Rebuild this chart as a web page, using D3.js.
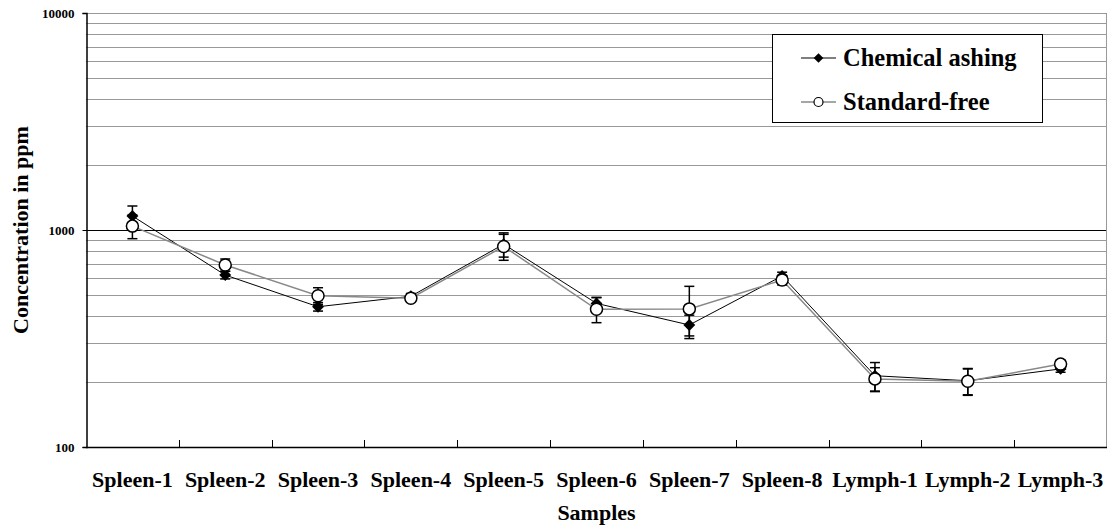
<!DOCTYPE html>
<html>
<head>
<meta charset="utf-8">
<script src="https://cdn.jsdelivr.net/npm/d3@7/dist/d3.min.js"></script>
<style>
  html, body { margin: 0; padding: 0; background: #fff; }
  svg { display: block; font-family: "Liberation Serif", "Times New Roman", serif; font-weight: bold; }
</style>
</head>
<body>
<svg id="chart" width="1110" height="529"></svg>
<script>
// Samples along the x axis
const samples = ["Spleen-1", "Spleen-2", "Spleen-3", "Spleen-4", "Spleen-5", "Spleen-6",
                 "Spleen-7", "Spleen-8", "Lymph-1", "Lymph-2", "Lymph-3"];

// Concentration (ppm) and standard deviation per method
const chemicalAshing    = [1160, 620, 443, 495, 860, 459, 365, 614, 213, 202, 229];
const chemicalAshingErr = [130,  25,  20,  15,  110, 30,  40,  25,  32,  28,  8];
const standardFree      = [1042, 690, 498, 485, 840, 431, 433, 588, 206, 201, 241];
const standardFreeErr   = [130,  45,  44,  15,  115, 57,  117, 30,  26,  28,  10];

const yTickLabels = [100, 1000, 10000];
const legendLabels = ["Chemical ashing", "Standard-free"];

const svg = d3.select("#chart");
const m = { left: 86, right: 1107, top: 13, bottom: 447 };

const x = d3.scaleBand().domain(samples).range([m.left, m.right]);
const y = d3.scaleLog().domain([100, 10000]).range([m.bottom, m.top]);

// Horizontal grid lines at every minor decade step
const gridVals = [];
for (let d = 100; d < 10000; d *= 10) {
  for (let k = 2; k <= 10; k++) gridVals.push(d * k);
}
svg.append("g").selectAll("line").data(gridVals).join("line")
  .attr("x1", m.left).attr("x2", m.right)
  .attr("y1", v => Math.round(y(v)) + 0.5).attr("y2", v => Math.round(y(v)) + 0.5)
  .attr("stroke", v => v === 1000 ? "#000" : "#999")
  .attr("stroke-width", 1);

// Right border of plot area
svg.append("line")
  .attr("x1", m.right - 0.5).attr("x2", m.right - 0.5)
  .attr("y1", m.top).attr("y2", m.bottom)
  .attr("stroke", "#999");

// Y axis
const yAxis = d3.axisLeft(y).tickValues(yTickLabels).tickFormat(d3.format("d")).tickSize(4).tickPadding(8);
const gy = svg.append("g").attr("transform", `translate(${m.left + 0.5},0)`).call(yAxis);
gy.select(".domain").attr("stroke", "#000").attr("stroke-width", 1.5);
gy.selectAll("text").attr("font-size", 13).attr("font-weight", "bold")
  .attr("font-family", "Liberation Serif, serif").attr("fill", "#000");

// X axis with inward ticks at category boundaries
svg.append("line")
  .attr("x1", m.left).attr("x2", m.right)
  .attr("y1", m.bottom + 0.5).attr("y2", m.bottom + 0.5)
  .attr("stroke", "#000").attr("stroke-width", 1.5);
svg.append("g").selectAll("line").data(samples.slice(1)).join("line")
  .attr("x1", d => Math.round(x(d)) + 0.5).attr("x2", d => Math.round(x(d)) + 0.5)
  .attr("y1", m.bottom).attr("y2", m.bottom - 7)
  .attr("stroke", "#000");
svg.append("g").selectAll("text").data(samples).join("text")
  .attr("x", d => x(d) + x.bandwidth() / 2)
  .attr("y", 487)
  .attr("text-anchor", "middle")
  .attr("font-size", 22)
  .text(d => d);

// Axis titles
svg.append("text")
  .attr("x", (m.left + m.right) / 2).attr("y", 520)
  .attr("text-anchor", "middle").attr("font-size", 22)
  .text("Samples");
svg.append("text")
  .attr("transform", `translate(28,${(m.top + m.bottom) / 2}) rotate(-90)`)
  .attr("text-anchor", "middle").attr("font-size", 22)
  .text("Concentration in ppm");

const cx = i => x(samples[i]) + x.bandwidth() / 2;

function drawErrorBars(vals, errs) {
  const g = svg.append("g");
  vals.forEach((v, i) => {
    const xi = cx(i);
    const hi = y(v + errs[i]), lo = y(v - errs[i]);
    g.append("line").attr("x1", xi).attr("x2", xi).attr("y1", hi).attr("y2", lo)
      .attr("stroke", "#000").attr("stroke-width", 1.5);
    [hi, lo].forEach(yy => g.append("line")
      .attr("x1", xi - 5).attr("x2", xi + 5).attr("y1", yy).attr("y2", yy)
      .attr("stroke", "#000").attr("stroke-width", 1.5));
  });
}

const line = d3.line().x((d, i) => cx(i)).y(d => y(d));

// Series lines
svg.append("path").datum(chemicalAshing).attr("d", line)
  .attr("fill", "none").attr("stroke", "#000").attr("stroke-width", 1);
svg.append("path").datum(standardFree).attr("d", line)
  .attr("fill", "none").attr("stroke", "#888").attr("stroke-width", 1.5);

drawErrorBars(chemicalAshing, chemicalAshingErr);
drawErrorBars(standardFree, standardFreeErr);

// Markers
const diamond = d3.symbol().type(d3.symbolDiamond2).size(90);
svg.append("g").selectAll("path").data(chemicalAshing).join("path")
  .attr("d", diamond)
  .attr("transform", (d, i) => `translate(${cx(i)},${y(d)})`)
  .attr("fill", "#000");
svg.append("g").selectAll("circle").data(standardFree).join("circle")
  .attr("cx", (d, i) => cx(i)).attr("cy", d => y(d)).attr("r", 6)
  .attr("fill", "#fff").attr("stroke", "#000").attr("stroke-width", 1.5);

// Legend
const lg = svg.append("g");
lg.append("rect").attr("x", 772.5).attr("y", 34.5).attr("width", 270).attr("height", 88)
  .attr("fill", "#fff").attr("stroke", "#000").attr("stroke-width", 1);
const rows = [58, 102];
lg.append("line").attr("x1", 801).attr("x2", 836).attr("y1", rows[0]).attr("y2", rows[0])
  .attr("stroke", "#000").attr("stroke-width", 1.2);
lg.append("path").attr("d", d3.symbol().type(d3.symbolDiamond2).size(60))
  .attr("transform", `translate(818.5,${rows[0]})`).attr("fill", "#000");
lg.append("line").attr("x1", 801).attr("x2", 836).attr("y1", rows[1]).attr("y2", rows[1])
  .attr("stroke", "#888").attr("stroke-width", 1.5);
lg.append("circle").attr("cx", 818.5).attr("cy", rows[1]).attr("r", 4.5)
  .attr("fill", "#fff").attr("stroke", "#000").attr("stroke-width", 1.2);
legendLabels.forEach((t, i) => lg.append("text")
  .attr("x", 843).attr("y", rows[i] + 8).attr("font-size", 24.5).text(t));
</script>
</body>
</html>
